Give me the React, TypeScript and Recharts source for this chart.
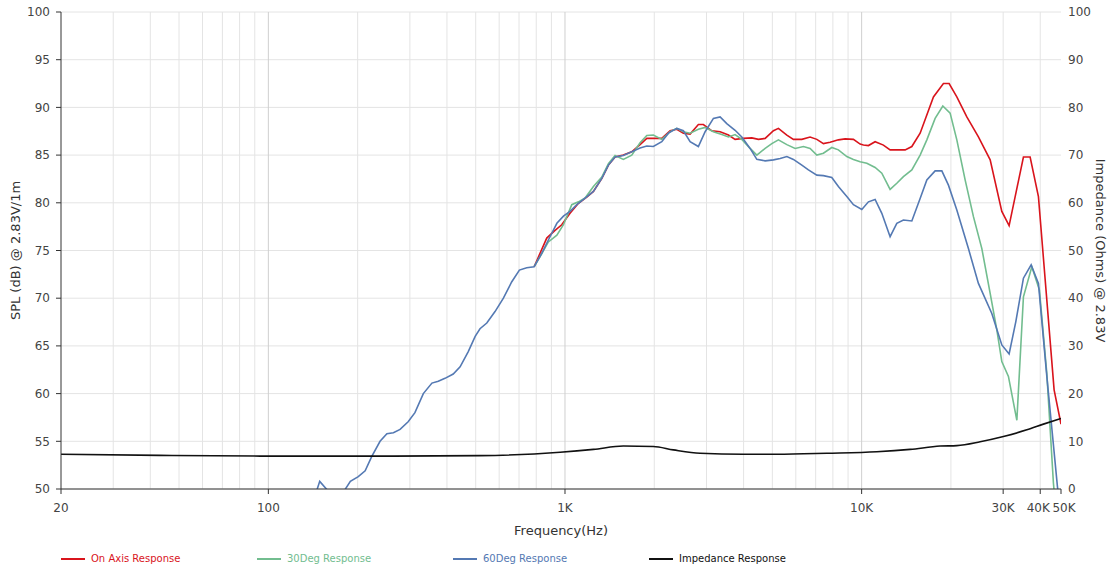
import React from "react";
import { LineChart, Line, XAxis, YAxis, CartesianGrid, ReferenceLine } from "recharts";

// SPL curves (Hz / dB)
const blueFreq = [141, 149, 160, 170, 181, 189, 201, 212, 223, 238, 251, 264, 278, 296, 312, 333, 356, 374, 394, 420, 443, 472, 498, 517, 545, 581, 620, 661, 702, 743, 787, 835, 879, 939, 988, 1040, 1096, 1169, 1247, 1331, 1401, 1475, 1573, 1679, 1791, 1887, 1986, 2120, 2232, 2382, 2507, 2641, 2816, 2968, 3165, 3334, 3511, 3745, 3945, 4208, 4433, 4729, 5043, 5313, 5596, 5888, 6287, 6617, 7063, 7433, 7933, 8350, 8914, 9383, 10014, 10542, 11104, 11696, 12474, 13140, 13832, 14766, 15747, 16589, 17692, 18638, 19618, 20937, 22909, 24758, 27470, 29688, 31420, 33100, 35112, 37276, 39448, 42104, 45722, 47000];
const blueSpl = [48.5, 50.8, 49.7, 48.5, 49.9, 50.8, 51.3, 51.9, 53.4, 55.0, 55.8, 55.9, 56.25, 57.05, 58.0, 60.0, 61.1, 61.3, 61.6, 62.05, 62.8, 64.4, 66.0, 66.8, 67.4, 68.6, 70.0, 71.7, 72.95, 73.2, 73.3, 74.7, 76.1, 77.85, 78.6, 79.1, 79.8, 80.5, 81.2, 82.55, 83.95, 84.8, 84.95, 85.35, 85.75, 85.95, 85.9, 86.4, 87.3, 87.8, 87.55, 86.4, 85.9, 87.45, 88.85, 89.0, 88.3, 87.6, 86.9, 85.7, 84.55, 84.4, 84.5, 84.65, 84.85, 84.55, 83.95, 83.45, 82.9, 82.85, 82.65, 81.7, 80.65, 79.8, 79.3, 80.1, 80.35, 78.9, 76.45, 77.85, 78.2, 78.1, 80.45, 82.4, 83.35, 83.35, 81.85, 79.25, 75.2, 71.55, 68.4, 65.1, 64.15, 67.55, 72.1, 73.5, 71.55, 61.8, 50.25, 47];

const greenFreq = [787, 824, 879, 939, 988, 1054, 1110, 1169, 1247, 1331, 1401, 1475, 1573, 1679, 1791, 1887, 1986, 2120, 2262, 2382, 2507, 2641, 2816, 2968, 3165, 3378, 3556, 3745, 3945, 4208, 4433, 4729, 4980, 5242, 5596, 5968, 6366, 6703, 7063, 7433, 7933, 8350, 8914, 9383, 9884, 10412, 11104, 11696, 12474, 13140, 13832, 14766, 15747, 16589, 17692, 18782, 19876, 20937, 22332, 23820, 25424, 27122, 28570, 29688, 31252, 33364, 35112, 37474, 39758, 42104, 44318, 47000];
const greenSpl = [73.3, 74.35, 75.9, 76.6, 77.7, 79.8, 80.1, 80.5, 81.7, 82.7, 84.1, 84.95, 84.55, 85.0, 86.3, 87.05, 87.1, 86.65, 87.45, 87.8, 87.45, 87.3, 87.7, 87.9, 87.45, 87.15, 86.9, 87.15, 86.65, 85.7, 85.0, 85.7, 86.2, 86.6, 86.1, 85.7, 85.9, 85.7, 85.0, 85.2, 85.8, 85.55, 84.85, 84.55, 84.3, 84.15, 83.7, 83.1, 81.4, 82.05, 82.75, 83.45, 85.0, 86.6, 88.85, 90.15, 89.4, 86.6, 82.4, 78.55, 75.2, 70.5, 66.65, 63.35, 61.8, 57.2, 70.15, 73.3, 70.85, 62.1, 50.6, 42];

const redFreq = [787, 868, 926, 975, 1040, 1110, 1184, 1247, 1331, 1401, 1475, 1573, 1679, 1791, 1887, 2120, 2262, 2382, 2507, 2641, 2816, 2928, 3126, 3334, 3556, 3745, 3994, 4264, 4488, 4729, 5043, 5242, 5596, 5888, 6287, 6703, 7063, 7433, 7828, 8350, 8798, 9383, 9884, 10140, 10542, 11104, 11842, 12474, 14016, 14766, 15747, 17462, 18868, 19722, 20937, 22626, 24758, 27122, 29688, 31420, 32928, 35112, 36984, 39448, 44552, 47000];
const redSpl = [73.3, 76.3, 77.1, 77.7, 78.9, 79.95, 80.6, 81.2, 82.55, 83.95, 84.8, 85.0, 85.35, 86.1, 86.75, 86.75, 87.55, 87.7, 87.3, 87.2, 88.2, 88.2, 87.55, 87.45, 87.1, 86.65, 86.75, 86.8, 86.65, 86.75, 87.55, 87.8, 87.1, 86.65, 86.65, 86.9, 86.65, 86.2, 86.35, 86.6, 86.7, 86.65, 86.15, 86.05, 86.0, 86.4, 86.05, 85.55, 85.55, 85.9, 87.3, 91.1, 92.5, 92.5, 91.1, 89.0, 86.9, 84.5, 79.1, 77.6, 80.65, 84.8, 84.8, 80.65, 60.4, 56.8];

// impedance (Ohms)
const impFreq = [20, 43, 94, 263, 517, 963, 1247, 1573, 1986, 2320, 2854, 3994, 5176, 7632, 11252, 14572, 18388, 20937, 25086, 30060, 36054, 41012, 47000];
const impOhm = [7.3, 7.05, 6.9, 6.9, 7.0, 7.7, 8.3, 9.0, 8.9, 8.2, 7.5, 7.3, 7.3, 7.5, 7.8, 8.3, 9.0, 9.1, 9.9, 11.0, 12.4, 13.6, 14.8];

const freqTicks = [20, 100, 1000, 10000, 30000, 40000, 47000];
const freqTickLabels = ["20", "100", "1K", "10K", "30K", "40K", "50K"];
const minorGrid = [30, 40, 50, 60, 70, 80, 90, 200, 300, 400, 500, 600, 700, 800, 900, 2000, 3000, 4000, 5000, 6000, 7000, 8000, 9000, 20000, 30000, 40000];
const majorGrid = [100, 1000, 10000];
const splTicks = [50, 55, 60, 65, 70, 75, 80, 85, 90, 95, 100];
const impTicks = [0, 10, 20, 30, 40, 50, 60, 70, 80, 90, 100];

const RED = "#d9141c";
const GREEN = "#72bd8f";
const BLUE = "#5479b3";
const BLACK = "#111111";

const legendItems = [
  { name: "On Axis Response", color: RED },
  { name: "30Deg Response", color: GREEN },
  { name: "60Deg Response", color: BLUE },
  { name: "Impedance Response", color: BLACK },
];

const zip = (f: number[], v: number[]) => f.map((x, i) => ({ f: x, v: v[i] }));

const FONT = "'DejaVu Sans', Verdana, sans-serif";

// x tick: the last two labels sit very close, nudge them apart a little
function FreqTick(props: any) {
  const { x, y, payload } = props;
  const i = freqTicks.indexOf(payload.value);
  const dx = i === freqTicks.length - 1 ? 3 : i === freqTicks.length - 2 ? -2 : 0;
  return (
    <text x={x + dx} y={y} dy={12} textAnchor="middle" fontSize={12} fill="#444" fontFamily={FONT}>
      {freqTickLabels[i]}
    </text>
  );
}

export default function App() {
  const tickStyle = { fontSize: 12, fill: "#444", fontFamily: FONT };
  return (
    <div style={{ position: "absolute", left: 0, top: 0, width: 1112, height: 569, background: "#fff", fontFamily: FONT }}>
      <LineChart width={1112} height={569} margin={{ top: 12, right: 0, bottom: 0, left: 0 }}>
        <CartesianGrid yAxisId="spl" vertical={false} stroke="#e4e4e4" />
        {minorGrid.map((g) => (
          <ReferenceLine key={g} x={g} yAxisId="spl" stroke="#e4e4e4" />
        ))}
        {majorGrid.map((g) => (
          <ReferenceLine key={g} x={g} yAxisId="spl" stroke="#cfcfcf" />
        ))}
        <XAxis
          dataKey="f"
          type="number"
          scale="log"
          domain={[20, 47000]}
          allowDataOverflow
          ticks={freqTicks}
          interval={0}
          height={80}
          tickSize={5}
          tickMargin={6}
          stroke="#333"
          tick={<FreqTick />}
          label={{ value: "Frequency(Hz)", position: "insideBottom", offset: 34, style: { fontSize: 13, fill: "#333", fontFamily: FONT } }}
        />
        <YAxis
          yAxisId="spl"
          orientation="left"
          domain={[50, 100]}
          ticks={splTicks}
          allowDataOverflow
          width={61}
          tickSize={5}
          tickMargin={6}
          stroke="#333"
          tick={tickStyle}
          label={{ value: "SPL (dB) @ 2.83V/1m", angle: -90, position: "insideLeft", offset: 15, style: { fontSize: 13, fill: "#333", fontFamily: FONT, textAnchor: "middle" } }}
        />
        <YAxis
          yAxisId="imp"
          orientation="right"
          domain={[0, 100]}
          ticks={impTicks}
          width={51}
          axisLine={false}
          tickLine={false}
          tickSize={0}
          tickMargin={7}
          tick={tickStyle}
          label={{ value: "Impedance (Ohms) @ 2.83V", angle: 90, position: "insideRight", offset: 11, style: { fontSize: 13, fill: "#333", fontFamily: FONT, textAnchor: "middle" } }}
        />
        <Line yAxisId="spl" data={zip(redFreq, redSpl)} dataKey="v" type="linear" stroke={RED} strokeWidth={1.6} dot={false} isAnimationActive={false} />
        <Line yAxisId="spl" data={zip(greenFreq, greenSpl)} dataKey="v" type="linear" stroke={GREEN} strokeWidth={1.6} dot={false} isAnimationActive={false} />
        <Line yAxisId="spl" data={zip(blueFreq, blueSpl)} dataKey="v" type="linear" stroke={BLUE} strokeWidth={1.6} dot={false} isAnimationActive={false} />
        <Line yAxisId="imp" data={zip(impFreq, impOhm)} dataKey="v" type="monotone" stroke={BLACK} strokeWidth={1.6} dot={false} isAnimationActive={false} />
      </LineChart>
      <div style={{ position: "absolute", left: 61, top: 553, display: "flex", fontSize: 10, fontFamily: FONT }}>
        {legendItems.map((it) => (
          <div key={it.name} style={{ width: 196, display: "flex", alignItems: "center" }}>
            <span style={{ display: "inline-block", width: 24, height: 2, background: it.color, marginRight: 6 }} />
            <span style={{ color: it.color }}>{it.name}</span>
          </div>
        ))}
      </div>
    </div>
  );
}
